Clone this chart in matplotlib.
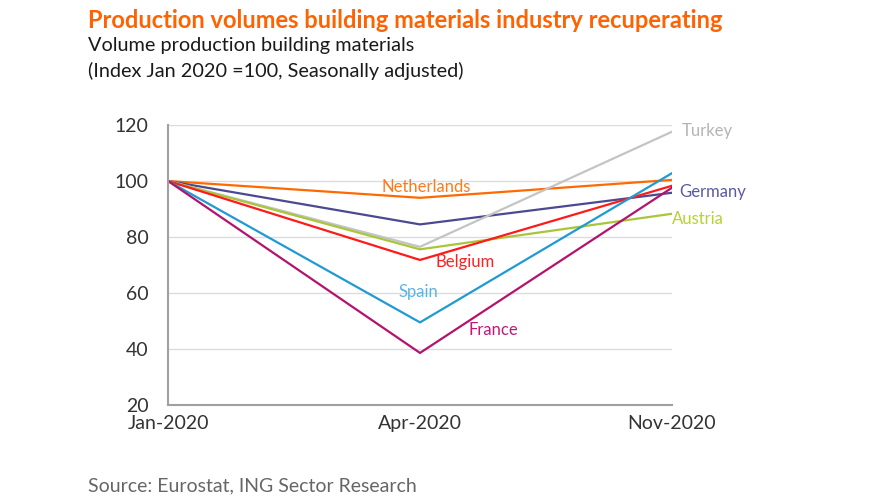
# Production volumes building materials - line chart

import numpy as np
import matplotlib.pyplot as plt

plt.rcParams['font.family'] = ['Lato', 'DejaVu Sans']

# Data (index Jan 2020 = 100)
months = ['Jan-2020', 'Apr-2020', 'Nov-2020']
netherlands = [100, 94.0, 100.4]
germany = [100, 84.5, 95.8]
turkey = [100, 76.5, 117.6]
austria = [100, 75.6, 88.3]
belgium = [100, 71.8, 98.3]
spain = [100, 49.5, 102.8]
france = [100, 38.6, 97.6]

series = [
    ('Netherlands', netherlands, '#ff6a00', '#ff7a1a'),
    ('Germany', germany, '#4b4a91', '#5a59a3'),
    ('Turkey', turkey, '#c4c4c4', '#b4b4b4'),
    ('Austria', austria, '#a9c63a', '#b8d12e'),
    ('Belgium', belgium, '#ff1a1a', '#ff2020'),
    ('Spain', spain, '#1f9ad2', '#5ab4e6'),
    ('France', france, '#b3136d', '#c2187a'),
]

# label positions (x index, y value, alignment)
label_pos = {
    'Netherlands': (1.025, 98.0, 'center'),
    'Germany': (2.03, 96.0, 'left'),
    'Turkey': (2.04, 117.8, 'left'),
    'Austria': (2.0, 86.3, 'left'),
    'Belgium': (1.18, 71.0, 'center'),
    'Spain': (0.995, 60.5, 'center'),
    'France': (1.29, 46.8, 'center'),
}

fig = plt.figure(figsize=(8.75, 5), dpi=100)
ax = fig.add_axes([0.192, 0.19, 0.576, 0.56])

x = np.arange(len(months))
for name, vals, col, lcol in series:
    ax.plot(x, vals, color=col, linewidth=1.6, solid_joinstyle='miter')
    lx, ly, ha = label_pos[name]
    ax.text(lx, ly, name, color=lcol, fontsize=12, ha=ha, va='center')

ax.set_xlim(0, 2)
ax.set_ylim(20, 120)
ax.set_xticks(x)
ax.set_xticklabels(months)
ax.set_yticks(np.arange(20, 121, 20))
ax.tick_params(axis='both', length=0, labelsize=14, colors='#333333')
ax.tick_params(axis='y', pad=14)
ax.tick_params(axis='x', pad=7)
ax.grid(axis='y', color='#dcdcdc', linewidth=1)
ax.set_axisbelow(True)
for s in ['top', 'right']:
    ax.spines[s].set_visible(False)
ax.spines['left'].set_color('#a0a0a0')
ax.spines['left'].set_linewidth(1.5)
ax.spines['bottom'].set_color('#a0a0a0')
ax.spines['bottom'].set_linewidth(1.5)

# titles
fig.text(88/875, 1 - 20/500, 'Production volumes building materials industry recuperating',
         color='#ff6200', fontsize=17, fontweight='bold', va='center', ha='left')
fig.text(88/875, 1 - 46/500, 'Volume production building materials',
         color='#1a1a1a', fontsize=14.3, va='center', ha='left')
fig.text(88/875, 1 - 71/500, '(Index Jan 2020 =100, Seasonally adjusted)',
         color='#1a1a1a', fontsize=14.3, va='center', ha='left')
fig.text(88/875, 1 - 486/500, 'Source: Eurostat, ING Sector Research',
         color='#666666', fontsize=14, va='center', ha='left')

plt.savefig('out.png', dpi=100)
